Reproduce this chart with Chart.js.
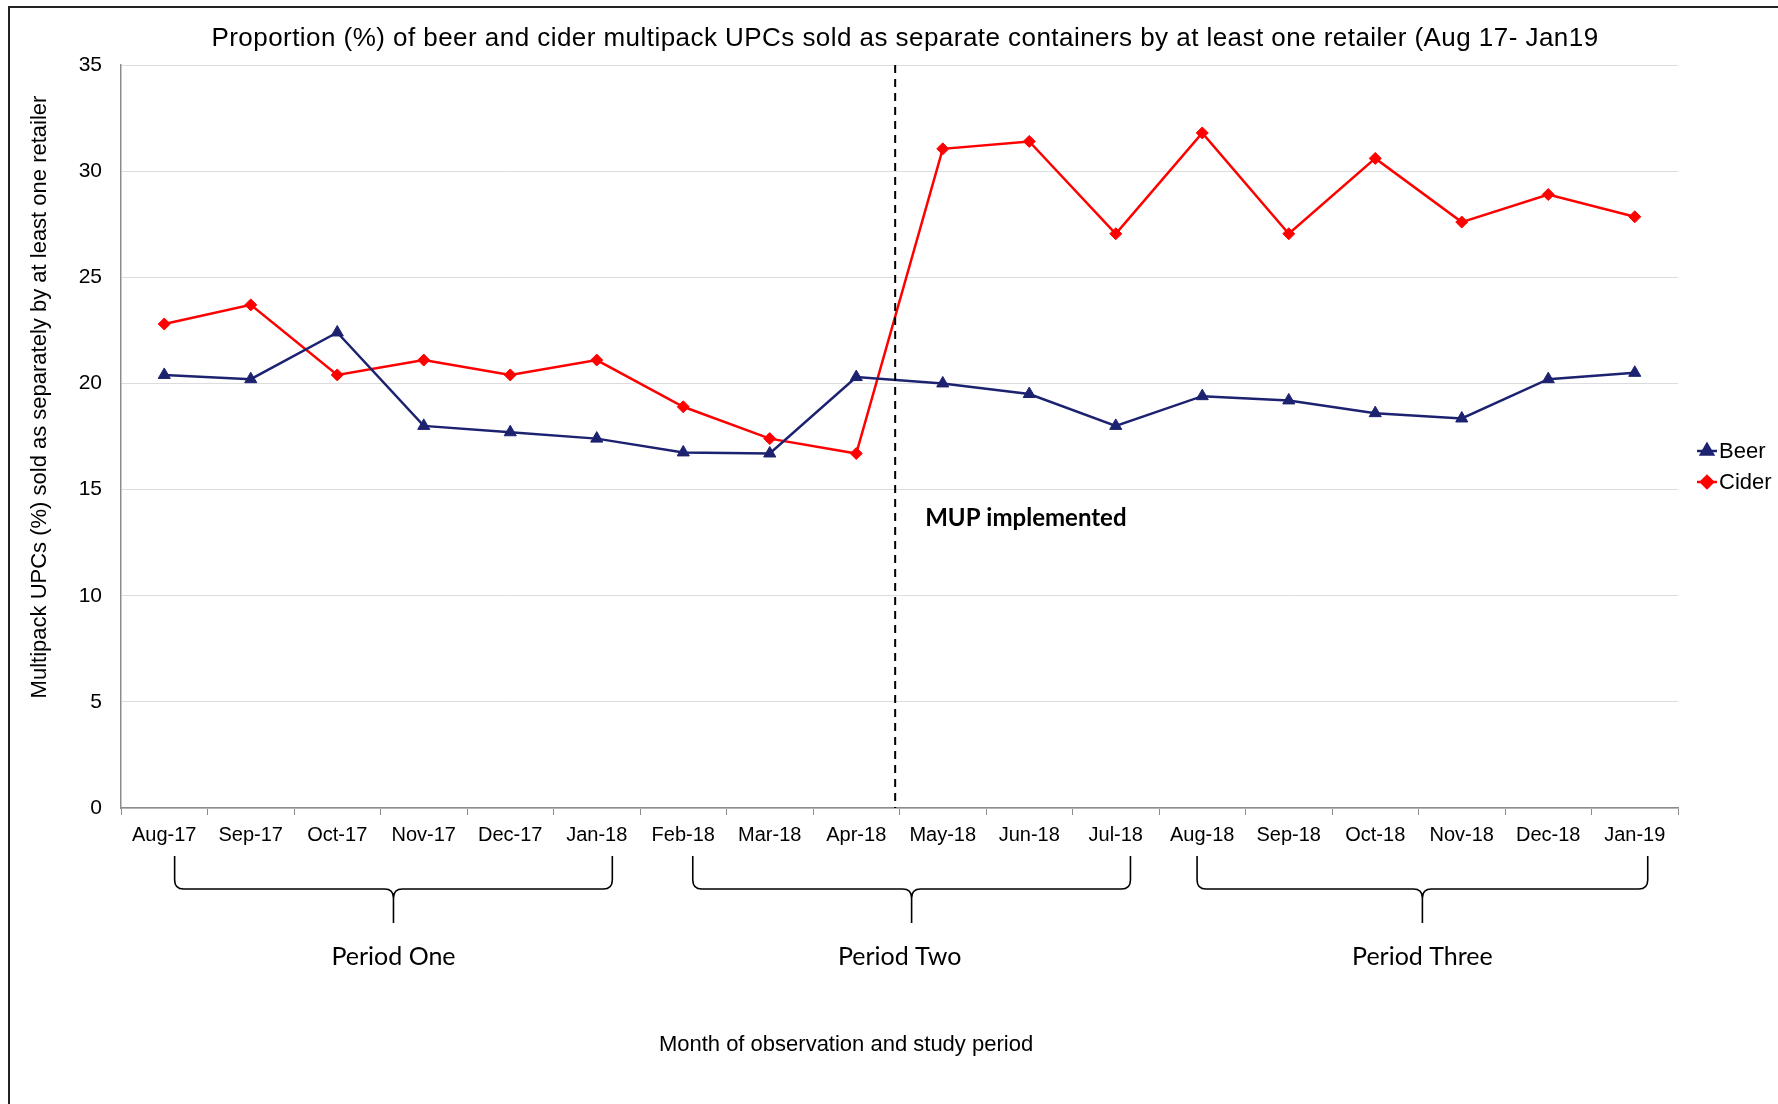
<!DOCTYPE html>
<html>
<head>
<meta charset="utf-8">
<title>Multipack UPCs sold as separate containers</title>
<script src="https://cdn.jsdelivr.net/npm/chart.js@4.4.1/dist/chart.umd.min.js"></script>
<style>
  html, body { margin: 0; padding: 0; background: #fff; }
  #wrap { width: 1778px; height: 1104px; position: relative; }
</style>
</head>
<body>
<div id="wrap"><canvas id="chart"></canvas></div>
<script>
// Month labels on the x axis
const months = ['Aug-17', 'Sep-17', 'Oct-17', 'Nov-17', 'Dec-17', 'Jan-18', 'Feb-18', 'Mar-18', 'Apr-18',
  'May-18', 'Jun-18', 'Jul-18', 'Aug-18', 'Sep-18', 'Oct-18', 'Nov-18', 'Dec-18', 'Jan-19'];

// Proportion (%)
const beer = [20.4, 20.2, 22.4, 18.0, 17.7, 17.4, 16.75, 16.7, 20.3,
  20.0, 19.5, 18.0, 19.4, 19.2, 18.6, 18.35, 20.2, 20.5];
const cider = [22.8, 23.7, 20.4, 21.1, 20.4, 21.1, 18.9, 17.4, 16.7,
  31.05, 31.4, 27.05, 31.8, 27.05, 30.6, 27.6, 28.9, 27.85];

const yMin = 0, yMax = 35, yStep = 5;

// study periods, brace ends given in category units
const periodLabels = ['Period One', 'Period Two', 'Period Three'];
const periodStart = [0.12, 6.11, 11.94];
const periodEnd = [5.18, 11.17, 17.15];

// MUP came in between Apr-18 and May-18
const mupPosition = 8.45;

const chartTitle = 'Proportion (%) of beer and cider multipack UPCs sold as separate containers by at least one retailer (Aug 17- Jan19';
const yTitle = 'Multipack UPCs (%) sold as separately by at least one retailer';
const xTitle = 'Month of observation and study period';

const BEER_COLOR = '#1c2270';
const CIDER_COLOR = '#ff0000';

// everything that is not a data mark: frame, titles, braces, legend
const annotations = {
  id: 'annotations',
  afterDraw(chart) {
    const ctx = chart.ctx;
    const area = chart.chartArea;
    const xs = chart.scales.x;
    ctx.save();

    // outer frame (only top and left edges are visible in the original)
    ctx.strokeStyle = '#222';
    ctx.lineWidth = 2;
    ctx.beginPath();
    ctx.moveTo(9, 1104);
    ctx.lineTo(9, 7);
    ctx.lineTo(1778, 7);
    ctx.stroke();

    // title
    ctx.fillStyle = '#000';
    ctx.textAlign = 'center';
    ctx.textBaseline = 'middle';
    ctx.font = '26px "Liberation Sans", Arial, sans-serif';
    ctx.letterSpacing = '0.45px';
    ctx.fillText(chartTitle, 905, 39);
    ctx.letterSpacing = '0px';

    // y title
    ctx.save();
    ctx.translate(40, 397);
    ctx.rotate(-Math.PI / 2);
    ctx.font = '22px "Liberation Sans", Arial, sans-serif';
    ctx.fillText(yTitle, 0, 0);
    ctx.restore();

    // dashed MUP line
    const mx = xs.getPixelForValue(mupPosition);
    ctx.strokeStyle = '#000';
    ctx.lineWidth = 2;
    ctx.setLineDash([8, 6]);
    ctx.beginPath();
    ctx.moveTo(mx, area.top);
    ctx.lineTo(mx, area.bottom);
    ctx.stroke();
    ctx.setLineDash([]);

    ctx.textAlign = 'left';
    ctx.font = 'bold 24px Lato, "Open Sans", sans-serif';
    ctx.fillText('MUP implemented', mx + 30, 518);

    // period braces
    ctx.lineWidth = 1.6;
    ctx.strokeStyle = '#000';
    ctx.textAlign = 'center';
    ctx.font = '25px Lato, "Open Sans", sans-serif';
    periodLabels.forEach((label, i) => {
      const x1 = xs.getPixelForValue(periodStart[i]);
      const x2 = xs.getPixelForValue(periodEnd[i]);
      const xm = (x1 + x2) / 2;
      const yTop = 856, yLine = 889, yTip = 923, r = 9;
      ctx.beginPath();
      ctx.moveTo(x1, yTop);
      ctx.lineTo(x1, yLine - r);
      ctx.quadraticCurveTo(x1, yLine, x1 + r, yLine);
      ctx.lineTo(xm - r, yLine);
      ctx.quadraticCurveTo(xm, yLine, xm, yLine + r);
      ctx.lineTo(xm, yTip);
      ctx.moveTo(x2, yTop);
      ctx.lineTo(x2, yLine - r);
      ctx.quadraticCurveTo(x2, yLine, x2 - r, yLine);
      ctx.lineTo(xm + r, yLine);
      ctx.quadraticCurveTo(xm, yLine, xm, yLine + r);
      ctx.stroke();
      ctx.fillText(label, xm - (i === 1 ? 12 : 0), 957);
    });

    // x title
    ctx.font = '22px "Liberation Sans", Arial, sans-serif';
    ctx.fillText(xTitle, 846, 1045);

    // legend
    ctx.textAlign = 'left';
    ctx.font = '22px "Liberation Sans", Arial, sans-serif';
    chart.data.datasets.forEach((ds, i) => {
      const ly = 451 + i * 31;
      const lx = 1707;
      ctx.strokeStyle = ds.borderColor;
      ctx.lineWidth = 2.5;
      ctx.beginPath();
      ctx.moveTo(lx - 10, ly);
      ctx.lineTo(lx + 10, ly);
      ctx.stroke();
      Chart.helpers.drawPoint(ctx, {
        pointStyle: ds.pointStyle,
        radius: ds.pointRadius,
        borderWidth: 1,
        rotation: 0
      }, lx, ly);
      ctx.fillStyle = ds.borderColor;
      ctx.fill();
      ctx.fillStyle = '#000';
      ctx.fillText(ds.label, lx + 12, ly + 1);
    });

    ctx.restore();
  }
};

new Chart(document.getElementById('chart'), {
  type: 'line',
  data: {
    labels: months,
    datasets: [
      {
        label: 'Beer',
        data: beer,
        borderColor: BEER_COLOR,
        backgroundColor: BEER_COLOR,
        borderWidth: 2.5,
        pointStyle: 'triangle',
        pointRadius: 7,
        pointBorderWidth: 1,
        tension: 0
      },
      {
        label: 'Cider',
        data: cider,
        borderColor: CIDER_COLOR,
        backgroundColor: CIDER_COLOR,
        borderWidth: 2.5,
        pointStyle: 'rectRot',
        pointRadius: 6,
        pointBorderWidth: 1,
        tension: 0
      }
    ]
  },
  options: {
    responsive: true,
    maintainAspectRatio: false,
    animation: false,
    layout: { padding: { top: 65, right: 100, left: 0, bottom: 0 } },
    plugins: {
      legend: { display: false },
      title: { display: false },
      tooltip: { enabled: false }
    },
    scales: {
      x: {
        offset: true,
        afterFit: scale => { scale.height = 296; },
        border: { color: '#8c8c8c', width: 1.5 },
        grid: { display: true, drawOnChartArea: false, drawTicks: true, tickLength: 7, offset: true, color: '#8c8c8c' },
        ticks: {
          padding: 8,
          color: '#000',
          maxRotation: 0,
          autoSkip: false,
          font: { family: '"Liberation Sans", Arial, sans-serif', size: 20 }
        }
      },
      y: {
        min: yMin,
        max: yMax,
        afterFit: scale => { scale.width = 121; },
        border: { color: '#8c8c8c', width: 1.5 },
        grid: { color: '#dcdcdc', lineWidth: 1, drawTicks: false },
        ticks: {
          stepSize: yStep,
          padding: 19,
          color: '#000',
          font: { family: '"Liberation Sans", Arial, sans-serif', size: 21 }
        }
      }
    }
  },
  plugins: [annotations]
});
</script>
</body>
</html>
